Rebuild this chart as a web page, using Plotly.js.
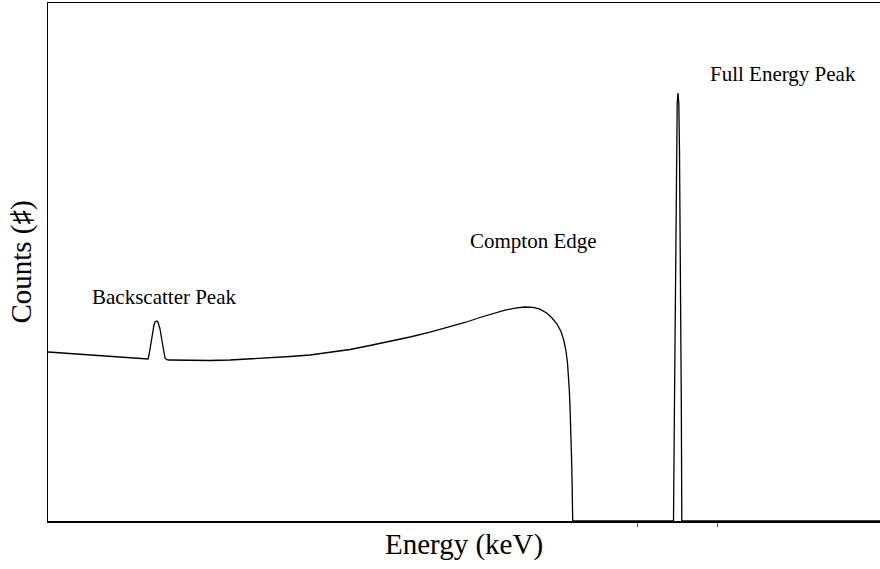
<!DOCTYPE html>
<html>
<head>
<meta charset="utf-8">
<script src="https://cdn.plot.ly/plotly-3.0.1.min.js"></script>
<style>html,body{margin:0;padding:0;background:#fff;}#chart{width:880px;height:569px;}</style>
</head>
<body>
<div id="chart"></div>
<script>
// Energy (arbitrary channel units) and counts
const energy = [0, 32, 72, 100, 101, 102, 103, 104, 105, 106, 107, 108, 109, 110, 111, 112, 113, 114, 115, 116, 117, 118, 119, 120, 122, 142, 162, 182, 202, 222, 242, 262, 282, 302, 322, 342, 362, 382, 402, 417, 432, 447, 457, 467, 477, 485, 492, 499, 504, 509, 513, 516, 518, 519.5, 520.5, 521.3, 522, 522.7, 523.3, 523.7, 524.1, 524.4, 524.7, 560, 625.5, 626.5, 627.5, 628.5, 629.2, 630, 630.8, 631.5, 632.5, 633.3, 633.8, 700, 832];
const counts = [169, 167, 164, 162, 166, 172, 179, 186, 192, 196, 199, 200, 200, 199, 196, 192, 186, 179, 172, 166, 163, 162, 161, 161, 161, 160.5, 160.5, 161, 162, 163, 164.5, 166, 168.5, 171.5, 175.5, 179.5, 184, 188.8, 194, 198.5, 203.5, 208, 210.8, 212.8, 214, 213.6, 211.8, 207.8, 203, 197, 189.5, 180, 170, 158, 145, 131, 115, 98, 76, 58, 38, 20, 0, 0, 0, 120, 260, 370, 418, 428, 418, 370, 260, 120, 0, 0, 0];
const tickPositions = [589, 669];
const tickLabels = ['', ''];
const xTitle = 'Energy (keV)';
const yTitle = 'Counts (\u266F)';
const labels = ['Backscatter Peak', 'Compton Edge', 'Full Energy Peak'];

const serif = 'Liberation Serif, Times New Roman, serif';
const trace = {
  x: energy, y: counts, type: 'scatter', mode: 'lines',
  line: {color: '#000', width: 1.3},
  hoverinfo: 'skip'
};
const ann = (t, x, y) => ({text: t, xref: 'paper', yref: 'paper', x: x, y: y, xanchor: 'center', yanchor: 'middle', showarrow: false, font: {family: serif, size: 21, color: '#000'}});
const layout = {
  width: 880, height: 569,
  margin: {l: 48, r: 0, t: 3, b: 48},
  paper_bgcolor: '#fff', plot_bgcolor: '#fff',
  showlegend: false,
  font: {family: serif, color: '#000'},
  xaxis: {
    range: [0, 832], showgrid: false, zeroline: false,
    showline: true, linecolor: '#000', linewidth: 1.5, mirror: true,
    tickvals: tickPositions, ticktext: tickLabels,
    ticks: 'outside', ticklen: 4, tickwidth: 1, tickcolor: '#555',
    title: {text: xTitle, font: {family: serif, size: 29, color: '#000'}, standoff: 6}
  },
  yaxis: {
    range: [0, 518], showgrid: false, zeroline: false,
    showline: true, linecolor: '#000', linewidth: 1.5, mirror: false,
    showticklabels: false, ticks: '',
    title: {text: yTitle, font: {family: serif, size: 29, color: '#000'}, standoff: 6}
  },
  annotations: [
    ann(labels[0], 0.1406, 0.432),
    ann(labels[1], 0.583, 0.5405),
    ann(labels[2], 0.883, 0.863)
  ]
};
Plotly.newPlot('chart', [trace], layout, {displayModeBar: false, staticPlot: true});
</script>
</body>
</html>
